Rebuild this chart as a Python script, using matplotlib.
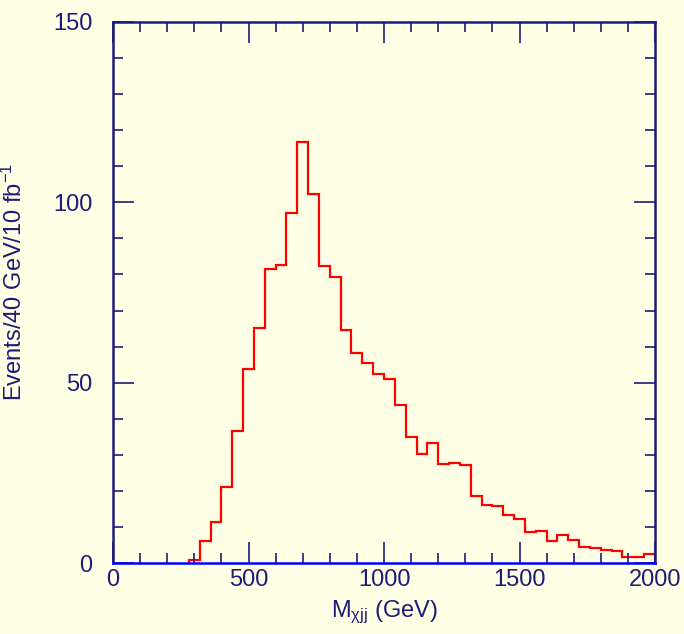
import numpy as np
import matplotlib
matplotlib.use("Agg")
import matplotlib.pyplot as plt
from matplotlib.ticker import MultipleLocator

# bin edges (GeV), 40 GeV bins from 280 to 2000
bin_lo = 280
bin_width = 40
counts = [0.8, 6.2, 11.5, 21.0, 36.6, 53.9, 65.2, 81.6, 82.5, 97.1,
          116.7, 102.3, 82.3, 79.2, 64.6, 58.3, 55.5, 52.4, 51.1, 43.7,
          35.0, 30.2, 33.2, 27.4, 27.6, 27.3, 18.6, 16.1, 15.8, 13.2,
          12.1, 8.6, 8.9, 6.0, 7.7, 6.4, 4.5, 4.2, 3.6, 3.4,
          1.8, 1.8, 2.6]
edges = bin_lo + bin_width * np.arange(len(counts) + 1)

bg = '#ffffe6'
navy = '#1c1c78'
plt.rcParams['font.family'] = ['Liberation Sans', 'DejaVu Sans']
plt.rcParams['mathtext.fontset'] = 'custom'
plt.rcParams['mathtext.rm'] = 'Liberation Sans'
plt.rcParams['mathtext.it'] = 'Liberation Sans'

fig = plt.figure(figsize=(6.84, 6.34), dpi=100, facecolor=bg)
ax = fig.add_axes([113/684, 71/634, 542/684, 541/634])
ax.set_facecolor(bg)

ax.stairs(counts, edges, color='#ff0000', lw=1.6)

ax.set_xlim(0, 2000)
ax.set_ylim(0, 150)
ax.xaxis.set_major_locator(MultipleLocator(500))
ax.xaxis.set_minor_locator(MultipleLocator(100))
ax.yaxis.set_major_locator(MultipleLocator(50))
ax.yaxis.set_minor_locator(MultipleLocator(10))
ax.tick_params(which='both', direction='in', top=True, right=True,
               color=navy, width=1.2, labelcolor=navy, labelsize=17)
ax.tick_params(which='major', length=15)
ax.tick_params(axis='x', which='major', pad=4)
ax.tick_params(axis='y', which='major', pad=15)
ax.tick_params(which='minor', length=7.5)

for s in ['left', 'top', 'right']:
    ax.spines[s].set_color(navy)
    ax.spines[s].set_linewidth(1.8)
ax.spines['bottom'].set_color('#0000ff')
ax.spines['bottom'].set_linewidth(1.8)

ax.set_xlabel(r'M$_{\chi jj}$ (GeV)', fontsize=17, color=navy, labelpad=6)
ax.set_ylabel(r'Events/40 GeV/10 fb$^{-1}$', fontsize=17, color=navy)
ax.yaxis.set_label_coords(-0.158, 0.52)

fig.savefig('out.png', dpi=100, facecolor=bg)
